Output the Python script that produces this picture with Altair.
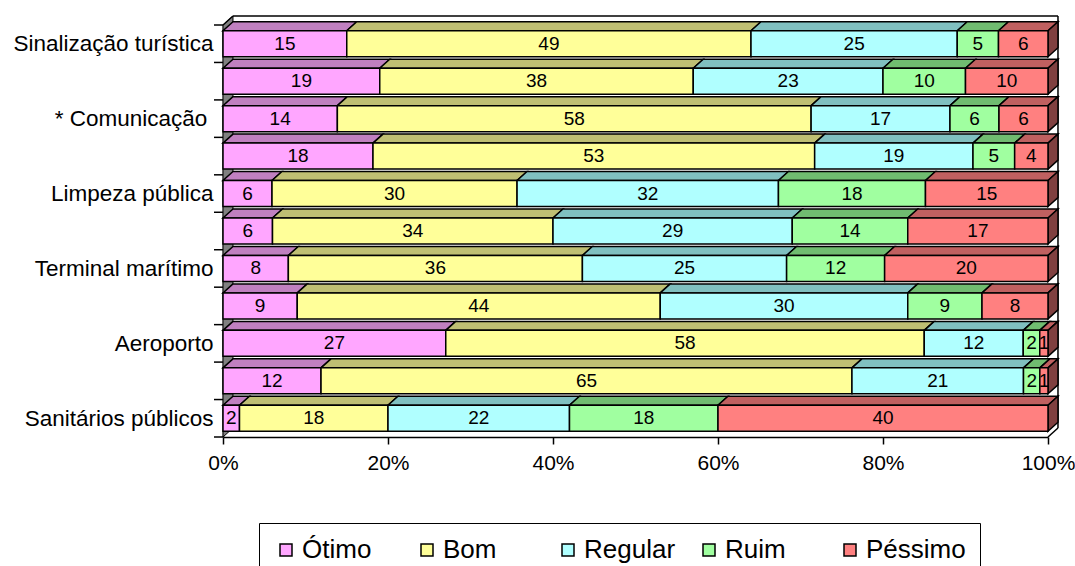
import json

import altair as alt
import pandas as pd

# Row labels (top to bottom); alternate rows carry no label on the axis
rows = [
    "Sinalização turística", "", "* Comunicação\u00a0\u200b", "", "Limpeza pública", "",
    "Terminal marítimo", "", "Aeroporto", "", "Sanitários públicos",
]
categories = ["Ótimo", "Bom", "Regular", "Ruim", "Péssimo"]

# Percentages per rating, one value per row (top to bottom)
otimo = [15, 19, 14, 18, 6, 6, 8, 9, 27, 12, 2]
bom = [49, 38, 58, 53, 30, 34, 36, 44, 58, 65, 18]
regular = [25, 23, 17, 19, 32, 29, 25, 30, 12, 21, 22]
ruim = [5, 10, 6, 5, 18, 14, 12, 9, 2, 2, 18]
pessimo = [6, 10, 6, 4, 15, 17, 20, 8, 1, 1, 40]

x_ticks = [0, 20, 40, 60, 80, 100]

# Colours: front faces, top faces, end face, side wall
front_colors = ["#FFA6FF", "#FFFF99", "#B0FFFF", "#A0FFA0", "#FF8080"]
top_colors = ["#C080C0", "#BFBF73", "#80C0C0", "#70BC70", "#C06060"]
side_color = "#804040"
wall_color = "#808080"

FONT = "Liberation Sans"

# Pseudo-3D depth (in data units) and half-height of a bar's front face
DX = 1.21
DY = 0.24
H = 0.347

n = len(rows)
series = [otimo, bom, regular, ruim, pessimo]

front, tops, sides = [], [], []
for i in range(n):
    vals = [s[i] for s in series]
    total = sum(vals)
    c = n - 0.5 - i
    acc = 0.0
    for k, (cat, v) in enumerate(zip(categories, vals)):
        x0 = acc / total * 100
        acc += v
        x1 = acc / total * 100
        front.append(dict(cat=cat, value=v, x0=x0, x1=x1, xm=(x0 + x1) / 2,
                          y1=c - H, y2=c + H, yc=c))
        seg = f"{i}-{k}"
        tops.append(dict(seg=seg, fill=top_colors[k], yy=c + H, xa=x0, xb=x1))
        tops.append(dict(seg=seg, fill=top_colors[k], yy=c + H + DY, xa=x0 + DX, xb=x1 + DX))
    sides.append(dict(row=i, xs=100, ya=c - H, yb=c + H))
    sides.append(dict(row=i, xs=100 + DX, ya=c - H + DY, yb=c + H + DY))

front_df = pd.DataFrame(front)
tops_df = pd.DataFrame(tops)
sides_df = pd.DataFrame(sides)

wall_df = pd.DataFrame({"xw": [0, DX], "ylo": [0, DY], "yhi": [n, n + DY]})
outline_df = pd.DataFrame({
    "xa": [DX, 100 + DX, 0, 100],
    "xb": [100 + DX, 100 + DX, DX, 100 + DX],
    "ya": [n + DY, DY, n, 0],
    "yb": [n + DY, n + DY, n + DY, DY],
})
ticks_df = pd.DataFrame({"b": list(range(n + 1))})

xs = alt.Scale(domain=[0, 100], nice=False, zero=False)
ys = alt.Scale(domain=[0, n], nice=False, zero=False)

label_expr = json.dumps(rows, ensure_ascii=False) + f"[{n - 0.5} - datum.value]"

x_axis = alt.Axis(
    values=x_ticks, labelExpr="datum.value + '%'", title=None, grid=False,
    tickSize=7, tickColor="black", tickWidth=1.5, domainColor="black", domainWidth=1.5,
    labelFont=FONT, labelFontSize=21, labelColor="black", labelPadding=8,
    labelFlush=False, labelOverlap=False,
)
y_axis = alt.Axis(
    values=[n - 0.5 - i for i in range(n)], labelExpr=label_expr, title=None, grid=False,
    ticks=False, domainColor="black", domainWidth=1.5,
    labelFont=FONT, labelFontSize=22.5, labelColor="black", labelPadding=10, labelLimit=400,
)

side_wall = alt.Chart(wall_df).mark_area(
    orient="vertical", fill=wall_color, stroke="black", strokeWidth=1
).encode(
    x=alt.X("xw:Q", scale=xs, axis=x_axis),
    y=alt.Y("ylo:Q", scale=ys, axis=y_axis, stack=False),
    y2="yhi:Q",
)

outline = alt.Chart(outline_df).mark_rule(color="black", strokeWidth=1.5).encode(
    x=alt.X("xa:Q", scale=xs, axis=x_axis),
    x2="xb:Q",
    y=alt.Y("ya:Q", scale=ys, axis=y_axis),
    y2="yb:Q",
)

top_faces = alt.Chart(tops_df).mark_area(
    orient="horizontal", stroke="black", strokeWidth=1.5, strokeJoin="miter"
).encode(
    y=alt.Y("yy:Q", scale=ys, axis=y_axis),
    x=alt.X("xa:Q", scale=xs, axis=x_axis, stack=False),
    x2="xb:Q",
    fill=alt.Fill("fill:N", scale=None),
    detail="seg:N",
)

end_faces = alt.Chart(sides_df).mark_area(
    orient="vertical", fill=side_color, stroke="black", strokeWidth=1.5
).encode(
    x=alt.X("xs:Q", scale=xs, axis=x_axis),
    y=alt.Y("ya:Q", scale=ys, axis=y_axis, stack=False),
    y2="yb:Q",
    detail="row:N",
)

front_faces = alt.Chart(front_df).mark_rect(stroke="black", strokeWidth=1.5).encode(
    x=alt.X("x0:Q", scale=xs, axis=x_axis),
    x2="x1:Q",
    y=alt.Y("y1:Q", scale=ys, axis=y_axis),
    y2="y2:Q",
    color=alt.Color(
        "cat:N",
        scale=alt.Scale(domain=categories, range=front_colors),
        sort=categories,
        legend=alt.Legend(
            title=None, orient="none", legendX=36, legendY=498, direction="horizontal",
            columns=5, gridAlign="all", columnPadding=12, padding=14,
            strokeColor="black", fillColor="white",
            symbolType="square", symbolSize=144, symbolStrokeColor="black",
            symbolStrokeWidth=1.5, symbolOpacity=1,
            labelFont=FONT, labelFontSize=26, labelColor="black", labelOffset=3,
        ),
    ),
)

value_labels = alt.Chart(front_df).mark_text(
    font=FONT, fontSize=19, color="black", align="center", baseline="middle"
).encode(
    x=alt.X("xm:Q", scale=xs, axis=x_axis),
    y=alt.Y("yc:Q", scale=ys, axis=y_axis),
    text="value:Q",
)

row_ticks = alt.Chart(ticks_df).mark_rule(color="black", strokeWidth=1.5).encode(
    y=alt.Y("b:Q", scale=ys, axis=y_axis),
    x=alt.value(-9),
    x2=alt.value(0),
)

chart = alt.layer(
    side_wall, outline, top_faces, end_faces, front_faces, value_labels, row_ticks
).properties(
    width=825,
    height=412,
    padding={"left": 223, "top": 25, "right": 27, "bottom": 129},
    autosize=alt.AutoSizeParams(type="none"),
    background="white",
).configure_view(stroke=None)

chart.save("out.html", embed_options={"renderer": "svg", "actions": False})
